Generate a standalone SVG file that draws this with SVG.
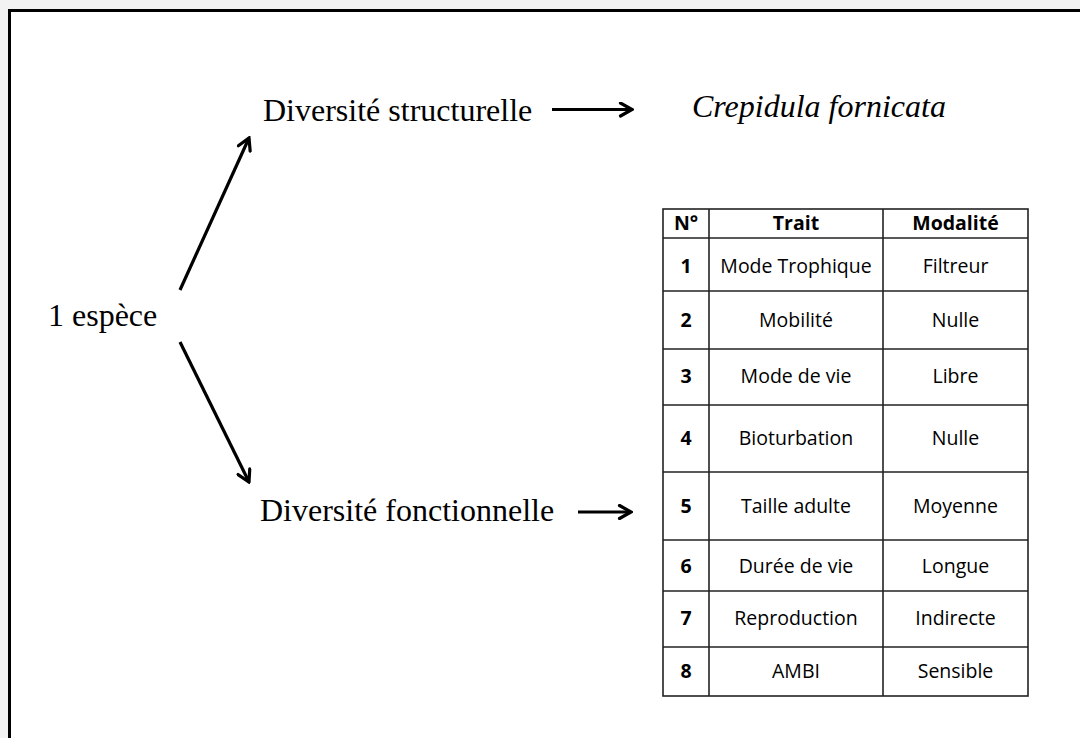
<svg xmlns="http://www.w3.org/2000/svg" width="1080" height="738" viewBox="0 0 1080 738">
<style>
.serif{font-family:"Liberation Serif","Times New Roman",serif;font-size:32px;fill:#000}
.it{font-style:italic}
.cell{font-family:"Open Sans","Liberation Sans",sans-serif;font-size:19.5px;fill:#000;text-anchor:middle}
.b{font-weight:bold}
.grid{stroke:#222;stroke-width:1.6;fill:none}
.arrow{stroke:#000;stroke-width:3.2;fill:none;marker-end:url(#head)}
</style>
<defs>
<marker id="head" viewBox="0 0 16 16" refX="14" refY="8" markerWidth="16" markerHeight="16" markerUnits="userSpaceOnUse" orient="auto">
<path d="M2.5,1.5 L14,8 L2.5,14.5" stroke="#000" stroke-width="3.2" fill="none" stroke-linecap="round" stroke-linejoin="miter"/>
</marker>
</defs>
<rect x="0" y="0" width="1080" height="738" fill="#f2f2f2"/>
<rect x="9.5" y="10.5" width="1100" height="800" fill="#fff" stroke="#000" stroke-width="3"/>

<g id="node-espece"><text class="serif" x="48" y="326">1 espèce</text></g>
<g id="node-structurelle"><text class="serif" x="263" y="121">Diversité structurelle</text></g>
<g id="node-fonctionnelle"><text class="serif" x="260" y="521">Diversité fonctionnelle</text></g>
<g id="node-crepidula"><text class="serif it" x="692" y="117">Crepidula fornicata</text></g>

<g id="node-table">
<rect class="grid" x="663" y="209" width="365" height="487"/>
<line class="grid" x1="709" y1="209" x2="709" y2="696"/>
<line class="grid" x1="883" y1="209" x2="883" y2="696"/>
<line class="grid" x1="663" y1="238" x2="1028" y2="238"/>
<line class="grid" x1="663" y1="291" x2="1028" y2="291"/>
<line class="grid" x1="663" y1="349" x2="1028" y2="349"/>
<line class="grid" x1="663" y1="405" x2="1028" y2="405"/>
<line class="grid" x1="663" y1="472" x2="1028" y2="472"/>
<line class="grid" x1="663" y1="540" x2="1028" y2="540"/>
<line class="grid" x1="663" y1="591" x2="1028" y2="591"/>
<line class="grid" x1="663" y1="647" x2="1028" y2="647"/>
<text class="cell b" x="686" y="230">N°</text>
<text class="cell b" x="796" y="230">Trait</text>
<text class="cell b" x="955.5" y="230">Modalité</text>
<text class="cell b" x="686" y="273">1</text><text class="cell" x="796" y="273">Mode Trophique</text><text class="cell" x="955.5" y="273">Filtreur</text>
<text class="cell b" x="686" y="327">2</text><text class="cell" x="796" y="327">Mobilité</text><text class="cell" x="955.5" y="327">Nulle</text>
<text class="cell b" x="686" y="383">3</text><text class="cell" x="796" y="383">Mode de vie</text><text class="cell" x="955.5" y="383">Libre</text>
<text class="cell b" x="686" y="445">4</text><text class="cell" x="796" y="445">Bioturbation</text><text class="cell" x="955.5" y="445">Nulle</text>
<text class="cell b" x="686" y="513">5</text><text class="cell" x="796" y="513">Taille adulte</text><text class="cell" x="955.5" y="513">Moyenne</text>
<text class="cell b" x="686" y="573">6</text><text class="cell" x="796" y="573">Durée de vie</text><text class="cell" x="955.5" y="573">Longue</text>
<text class="cell b" x="686" y="625">7</text><text class="cell" x="796" y="625">Reproduction</text><text class="cell" x="955.5" y="625">Indirecte</text>
<text class="cell b" x="686" y="678">8</text><text class="cell" x="796" y="678">AMBI</text><text class="cell" x="955.5" y="678">Sensible</text>
</g>

<g id="connectors">
<line class="arrow" x1="180" y1="290" x2="249" y2="138"/>
<line class="arrow" x1="180" y1="342" x2="249" y2="482"/>
<line class="arrow" x1="552" y1="109.5" x2="632" y2="109.5"/>
<line class="arrow" x1="578" y1="512" x2="631" y2="512"/>
</g>
</svg>
